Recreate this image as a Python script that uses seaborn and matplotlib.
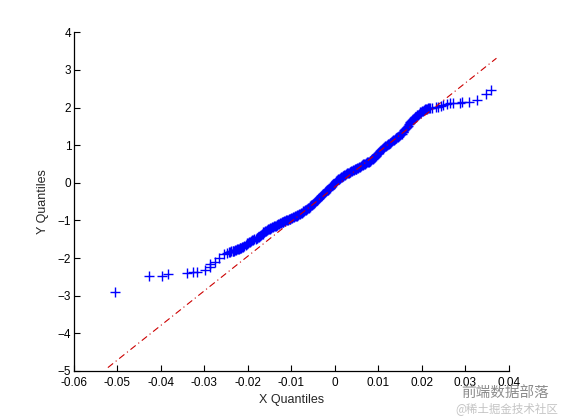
import pandas as pd
import matplotlib
matplotlib.use("Agg")
import matplotlib.pyplot as plt
import seaborn as sns

# X quantiles / Y quantiles (sorted pairs)
x_q = [
    -0.0506, -0.0428, -0.0398, -0.0384, -0.0341, -0.0326, -0.0318, -0.0299,
    -0.0288, -0.0287, -0.0276, -0.0267, -0.0255, -0.0248,
    -0.0243, -0.0238, -0.0233, -0.0229, -0.0225, -0.0221, -0.0217, -0.0213,
    -0.0208, -0.0203, -0.0199, -0.0195, -0.0190, -0.0185, -0.0180, -0.0176,
    -0.0172, -0.0168, -0.0164, -0.0160, -0.0156, -0.0152, -0.0148, -0.0144,
    -0.0140, -0.0136, -0.0132, -0.0128, -0.0124, -0.0120, -0.0116, -0.0112,
    -0.0108, -0.0104, -0.0100, -0.0096, -0.0092, -0.0088, -0.0084, -0.0080,
    -0.0076, -0.0072, -0.0068, -0.0064, -0.0060, -0.0056, -0.0052, -0.0048,
    -0.0044, -0.0040, -0.0036, -0.0032, -0.0028, -0.0024, -0.0020, -0.0016,
    -0.0012, -0.0008, -0.0004, 0.0000, 0.0004, 0.0008, 0.0012, 0.0016,
    0.0020, 0.0024, 0.0028, 0.0032, 0.0036, 0.0040, 0.0044, 0.0048,
    0.0052, 0.0056, 0.0060, 0.0064, 0.0068, 0.0072, 0.0076, 0.0080,
    0.0084, 0.0088, 0.0092, 0.0096, 0.0100, 0.0104, 0.0108, 0.0112,
    0.0116, 0.0120, 0.0124, 0.0128, 0.0132, 0.0136, 0.0140, 0.0144,
    0.0148, 0.0152, 0.0156, 0.0160, 0.0164, 0.0168, 0.0172, 0.0176,
    0.0180, 0.0184, 0.0189, 0.0193, 0.0197, 0.0201, 0.0205, 0.0210,
    0.0215, 0.0220,
    0.0224, 0.0232, 0.0237, 0.0244, 0.0250, 0.0258, 0.0264, 0.0272,
    0.0287, 0.0293, 0.0310, 0.0328, 0.0349, 0.0360,
]
y_q = [
    -2.91, -2.47, -2.47, -2.43, -2.40, -2.38, -2.36, -2.32,
    -2.16, -2.23, -2.11, -2.01, -1.90, -1.86,
    -1.84, -1.82, -1.80, -1.79, -1.77, -1.75, -1.73, -1.71,
    -1.68, -1.63, -1.59, -1.56, -1.53, -1.50, -1.47, -1.45,
    -1.42, -1.37, -1.32, -1.28, -1.25, -1.23, -1.21, -1.18,
    -1.16, -1.14, -1.11, -1.09, -1.06, -1.04, -1.02, -1.00,
    -0.98, -0.96, -0.94, -0.92, -0.89, -0.87, -0.85, -0.82,
    -0.79, -0.76, -0.73, -0.70, -0.66, -0.62, -0.58, -0.54,
    -0.49, -0.45, -0.40, -0.35, -0.31, -0.27, -0.22, -0.18,
    -0.13, -0.09, -0.04, 0.00, 0.05, 0.09, 0.13, 0.16,
    0.19, 0.22, 0.25, 0.27, 0.30, 0.32, 0.34, 0.37,
    0.39, 0.41, 0.44, 0.47, 0.50, 0.52, 0.55, 0.57,
    0.60, 0.64, 0.69, 0.74, 0.80, 0.85, 0.89, 0.93,
    0.97, 1.01, 1.04, 1.07, 1.11, 1.14, 1.18, 1.21,
    1.25, 1.29, 1.34, 1.39, 1.45, 1.52, 1.59, 1.65,
    1.70, 1.74, 1.79, 1.83, 1.87, 1.90, 1.93, 1.96,
    1.98, 2.00,
    2.00, 2.02, 2.02, 2.05, 2.07, 2.10, 2.11, 2.12,
    2.13, 2.14, 2.14, 2.21, 2.36, 2.46,
]

# further points in the dense middle of the band
x_extra = [
    -0.0240, -0.0235, -0.0231, -0.0227, -0.0223, -0.0219, -0.0215, -0.0210,
    -0.0205, -0.0201, -0.0197, -0.0192, -0.0187, -0.0182, -0.0178, -0.0174,
    -0.0170, -0.0166, -0.0162, -0.0158, -0.0154, -0.0150, -0.0146, -0.0142,
    -0.0138, -0.0134, -0.0130, -0.0126, -0.0122, -0.0118, -0.0114, -0.0110,
    -0.0106, -0.0102, -0.0098, -0.0094, -0.0090, -0.0086, -0.0082, -0.0078,
    -0.0074, -0.0070, -0.0066, -0.0062, -0.0058, -0.0054, -0.0050, -0.0046,
    -0.0042, -0.0038, -0.0034, -0.0030, -0.0026, -0.0022, -0.0018, -0.0014,
    -0.0010, -0.0006, -0.0002, 0.0002, 0.0006, 0.0010, 0.0014, 0.0018,
    0.0022, 0.0026, 0.0030, 0.0034, 0.0038, 0.0042, 0.0046, 0.0050,
    0.0054, 0.0058, 0.0062, 0.0066, 0.0070, 0.0074, 0.0078, 0.0082,
    0.0086, 0.0090, 0.0094, 0.0098, 0.0102, 0.0106, 0.0110, 0.0114,
    0.0118, 0.0122, 0.0126, 0.0130, 0.0134, 0.0138, 0.0142, 0.0146,
    0.0150, 0.0154, 0.0158, 0.0162, 0.0166, 0.0170, 0.0174, 0.0178,
    0.0182, 0.0186, 0.0191, 0.0195, 0.0199, 0.0203, 0.0207, 0.0212,
    0.0217,
]
y_extra = [
    -1.83, -1.81, -1.80, -1.78, -1.76, -1.74, -1.72, -1.70,
    -1.66, -1.61, -1.58, -1.55, -1.52, -1.49, -1.46, -1.44,
    -1.40, -1.35, -1.30, -1.27, -1.24, -1.22, -1.20, -1.17,
    -1.15, -1.13, -1.10, -1.08, -1.05, -1.03, -1.01, -0.99,
    -0.97, -0.95, -0.93, -0.91, -0.88, -0.86, -0.84, -0.81,
    -0.78, -0.75, -0.72, -0.68, -0.64, -0.60, -0.56, -0.52,
    -0.47, -0.43, -0.38, -0.33, -0.29, -0.25, -0.20, -0.16,
    -0.11, -0.07, -0.02, 0.03, 0.07, 0.11, 0.15, 0.18,
    0.21, 0.24, 0.26, 0.29, 0.31, 0.33, 0.36, 0.38,
    0.40, 0.43, 0.46, 0.49, 0.51, 0.54, 0.56, 0.58,
    0.62, 0.66, 0.71, 0.77, 0.83, 0.87, 0.91, 0.95,
    0.99, 1.03, 1.06, 1.09, 1.13, 1.16, 1.20, 1.23,
    1.27, 1.31, 1.36, 1.42, 1.48, 1.56, 1.62, 1.68,
    1.72, 1.76, 1.81, 1.85, 1.89, 1.92, 1.95, 1.97,
    1.99,
]

# reference line (quartile fit, extended)
line_x = [-0.0522, 0.0372]
line_y = [-4.91, 3.31]

df = pd.DataFrame({"x": x_q + x_extra, "y": y_q + y_extra})
ref = pd.DataFrame({"x": line_x, "y": line_y})

sns.set_style("ticks")
plt.rcParams["font.family"] = ["Liberation Sans", "Noto Sans CJK SC", "DejaVu Sans"]

fig = plt.figure(figsize=(5.63, 4.19), dpi=100)
ax = fig.add_axes([0.1314, 0.1146, 0.772, 0.8084])

sns.lineplot(data=ref, x="x", y="y", sort=False, color="#cc0000",
             linewidth=0.8, linestyle=(0, (6, 3, 1, 3)), ax=ax)
sns.scatterplot(data=df, x="x", y="y", marker="+", color="#0000ff",
                s=45, linewidth=1.0, ax=ax)

ax.set_xlim(-0.06, 0.04)
ax.set_ylim(-5, 4)
ax.set_xticks([-0.06, -0.05, -0.04, -0.03, -0.02, -0.01, 0, 0.01, 0.02, 0.03, 0.04])
ax.set_xticklabels(["-0.06", "-0.05", "-0.04", "-0.03", "-0.02", "-0.01", "0",
                    "0.01", "0.02", "0.03", "0.04"])
ax.set_yticks(range(-5, 5))
ax.tick_params(direction="in", length=4, width=0.8, labelsize=8.5,
               colors="black")
ax.tick_params(axis="x", pad=4)
ax.tick_params(axis="y", pad=2)
for side in ["top", "right"]:
    ax.spines[side].set_visible(False)
for side in ["left", "bottom"]:
    ax.spines[side].set_linewidth(0.9)
    ax.spines[side].set_color("black")

ax.set_xlabel("X Quantiles", fontsize=9, labelpad=4)
ax.set_ylabel("Y Quantiles", fontsize=9, labelpad=6)

# watermark
fig.text(0.820, 0.0633, "前端数据部落", fontsize=10.5, color="#8c8c8c",
         va="center", family=["Noto Sans CJK SC", "DejaVu Sans"])
fig.text(0.808, 0.026, "@稀土掘金技术社区", fontsize=8.3, color="#c4c4c4",
         va="center", family=["Noto Sans CJK SC", "DejaVu Sans"])

fig.savefig("out.png", dpi=100)
